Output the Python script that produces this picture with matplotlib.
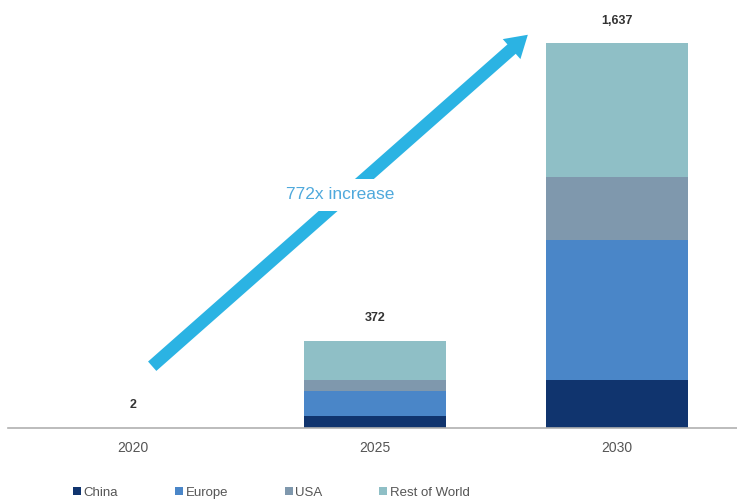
import matplotlib.pyplot as plt
from matplotlib.patches import FancyArrowPatch

plt.rcParams['font.family'] = ['Liberation Sans', 'DejaVu Sans']

# Data
years = ['2020', '2025', '2030']
china = [0.5, 51, 204]
europe = [1.0, 106, 596]
usa = [0.2, 47, 268]
rest_of_world = [0.3, 168, 569]
totals = ['2', '372', '1,637']

series = [('China', china, '#10346e'),
          ('Europe', europe, '#4a86c8'),
          ('USA', usa, '#7f98ad'),
          ('Rest of World', rest_of_world, '#8fbfc6')]

fig = plt.figure(figsize=(7.37, 5.03), dpi=100)
ax = fig.add_axes([0.011, 0.149, 0.989, 0.851])

x = list(range(len(years)))
bottom = [0.0] * len(years)
for name, vals, color in series:
    ax.bar(x, vals, width=0.59, bottom=bottom, color=color, label=name)
    bottom = [b + v for b, v in zip(bottom, vals)]

for xi, top, lab in zip(x, bottom, totals):
    ax.text(xi, top + 70, lab, ha='center', va='bottom', fontsize=9,
            fontweight='bold', color='#333333')

ax.set_xlim(-0.517, 2.496)
ax.set_ylim(0, 1820)
ax.set_xticks(x)
ax.set_xticklabels(years, fontsize=10, color='#555555')
ax.tick_params(axis='x', length=0, pad=9)
ax.set_yticks([])
for side in ['top', 'right', 'left']:
    ax.spines[side].set_visible(False)
ax.spines['bottom'].set_color('#b0b0b0')
ax.spines['bottom'].set_linewidth(1.2)

# growth arrow
arrow = FancyArrowPatch((0.07, 255), (1.64, 1680),
                        arrowstyle='simple,head_width=1.6,head_length=1.3,tail_width=0.75',
                        mutation_scale=12, color='#2bb3e3', lw=0, zorder=3)
ax.add_patch(arrow)
ax.text(0.855, 991, '772x increase', ha='center', va='center', fontsize=12.5,
        color='#4fa9dc', zorder=4,
        bbox=dict(facecolor='white', edgecolor='none', pad=6))

fig.legend(loc='center left', bbox_to_anchor=(0.083, 0.02), ncol=4, frameon=False,
           fontsize=9.5, handlelength=0.6, handleheight=0.6, handletextpad=0.2,
           columnspacing=4.3, labelcolor='#555555')

fig.savefig('out.png', dpi=100)
